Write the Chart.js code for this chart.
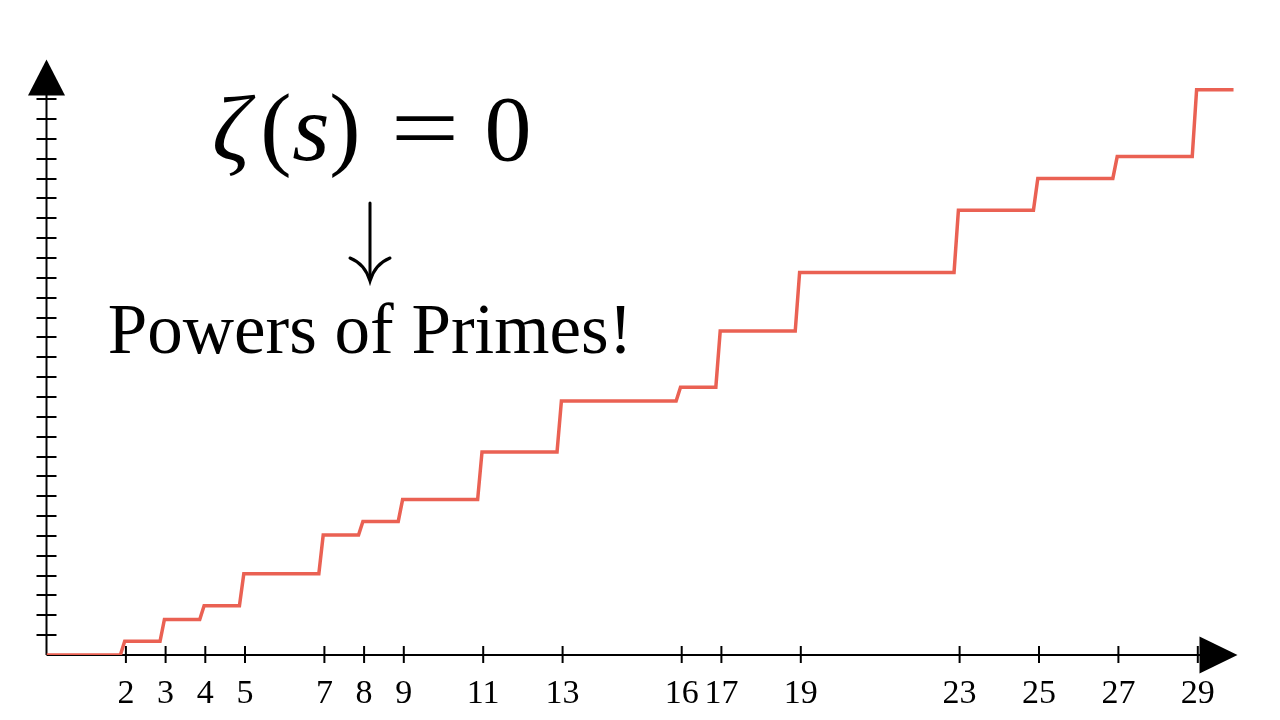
<!DOCTYPE html>
<html>
<head>
<meta charset="utf-8">
<script src="https://cdn.jsdelivr.net/npm/chart.js@4.4.1/dist/chart.umd.min.js"></script>
<style>
  html, body { margin: 0; padding: 0; background: #ffffff; }
  #wrap { width: 1280px; height: 720px; }
</style>
</head>
<body>
<div id="wrap"><canvas id="c" width="1280" height="720"></canvas></div>
<script>
// ---- data ----
const jumpX      = [2, 3, 4, 5, 7, 8, 9, 11, 13, 16, 17, 19, 23, 25, 27, 29];
const psiValues  = [0.69, 1.79, 2.48, 4.09, 6.04, 6.73, 7.83, 10.23, 12.80, 13.49, 16.32, 19.27, 22.40, 24.01, 25.11, 28.48];
const xTickLabels = ['2','3','4','5','7','8','9','11','13','16','17','19','23','25','27','29'];
const yTickValues = [1,2,3,4,5,6,7,8,9,10,11,12,13,14,15,16,17,18,19,20,21,22,23,24,25,26,27,28];
const xStart = 0;
const xEnd = 29.9;
const titleText = 'Powers of Primes!';

// step points built from the arrays (slanted rise just before each jump)
const rise = 0.11;
const points = [{x: xStart, y: 0}];
let prev = 0;
jumpX.forEach((p, i) => {
  points.push({x: p - rise - 0.03, y: prev});
  points.push({x: p - 0.03, y: psiValues[i]});
  prev = psiValues[i];
});
points.push({x: xEnd, y: prev});

const SERIF = '"Liberation Serif", "DejaVu Serif", serif';

const axesPlugin = {
  id: 'axesPlugin',
  beforeDatasetsDraw(chart) {
    const ctx = chart.ctx;
    const xs = chart.scales.x, ys = chart.scales.y;
    const ca = chart.chartArea;
    const ox = xs.getPixelForValue(0);
    const oy = ys.getPixelForValue(0);
    ctx.save();
    ctx.strokeStyle = '#000';
    ctx.fillStyle = '#000';
    ctx.lineWidth = 2;
    // x axis
    ctx.beginPath();
    ctx.moveTo(ox, oy);
    ctx.lineTo(ca.right - 37, oy);
    ctx.stroke();
    ctx.beginPath();
    ctx.moveTo(ca.right, oy);
    ctx.lineTo(ca.right - 38, oy - 18.5);
    ctx.lineTo(ca.right - 38, oy + 18.5);
    ctx.closePath();
    ctx.fill();
    // y axis
    ctx.beginPath();
    ctx.moveTo(ox, oy);
    ctx.lineTo(ox, ca.top + 35);
    ctx.stroke();
    ctx.beginPath();
    ctx.moveTo(ox, ca.top);
    ctx.lineTo(ox - 18.5, ca.top + 36);
    ctx.lineTo(ox + 18.5, ca.top + 36);
    ctx.closePath();
    ctx.fill();
    // y ticks
    yTickValues.forEach(v => {
      const py = Math.round(ys.getPixelForValue(v));
      ctx.beginPath();
      ctx.moveTo(ox - 10, py);
      ctx.lineTo(ox + 10, py);
      ctx.stroke();
    });
    // x ticks + labels
    ctx.font = '34px ' + SERIF;
    ctx.textAlign = 'center';
    ctx.textBaseline = 'alphabetic';
    jumpX.forEach((v, i) => {
      const px = xs.getPixelForValue(v);
      ctx.beginPath();
      ctx.moveTo(px, oy - 9);
      ctx.lineTo(px, oy + 8);
      ctx.stroke();
      ctx.fillText(xTickLabels[i], px, oy + 48);
    });
    ctx.restore();
  },
  afterDraw(chart) {
    const ctx = chart.ctx;
    ctx.save();
    ctx.fillStyle = '#000';
    ctx.textBaseline = 'alphabetic';
    ctx.textAlign = 'center';
    // zeta(s) = 0
    const base = 160;
    ctx.font = 'italic 94px ' + SERIF;
    ctx.fillText('ζ', 231, base);
    ctx.font = '94px ' + SERIF;
    ctx.fillText('(', 276, base - 2);
    ctx.font = 'italic 96px ' + SERIF;
    ctx.fillText('s', 311, base);
    ctx.font = '94px ' + SERIF;
    ctx.fillText(')', 345, base - 2);
    ctx.save();
    ctx.translate(425, base - 1);
    ctx.scale(1.3, 1);
    ctx.font = '94px ' + SERIF;
    ctx.fillText('=', 0, 0);
    ctx.restore();
    ctx.font = '94px ' + SERIF;
    ctx.fillText('0', 508, base);
    // arrow
    ctx.strokeStyle = '#000';
    ctx.lineWidth = 3;
    ctx.lineCap = 'round';
    ctx.beginPath();
    ctx.moveTo(370, 203);
    ctx.lineTo(370, 279);
    ctx.stroke();
    ctx.beginPath();
    ctx.moveTo(350, 258);
    ctx.quadraticCurveTo(365, 264, 370, 281);
    ctx.quadraticCurveTo(375, 264, 390, 258);
    ctx.stroke();
    // text
    ctx.font = '71px ' + SERIF;
    ctx.fillText(titleText, 370, 353);
    ctx.restore();
  }
};

new Chart(document.getElementById('c'), {
  type: 'line',
  data: {
    datasets: [{
      data: points,
      borderColor: '#EA6153',
      borderWidth: 3.5,
      pointRadius: 0,
      tension: 0,
      fill: false,
      borderJoinStyle: 'miter',
      borderCapStyle: 'butt'
    }]
  },
  options: {
    responsive: false,
    animation: false,
    events: [],
    layout: { padding: { left: 46.5, right: 42.5, top: 59.5, bottom: 65 } },
    scales: {
      x: { type: 'linear', min: 0, max: 30, display: false },
      y: { type: 'linear', min: 0, max: 30, display: false }
    },
    plugins: { legend: { display: false }, tooltip: { enabled: false }, title: { display: false } }
  },
  plugins: [axesPlugin]
});
</script>
</body>
</html>
